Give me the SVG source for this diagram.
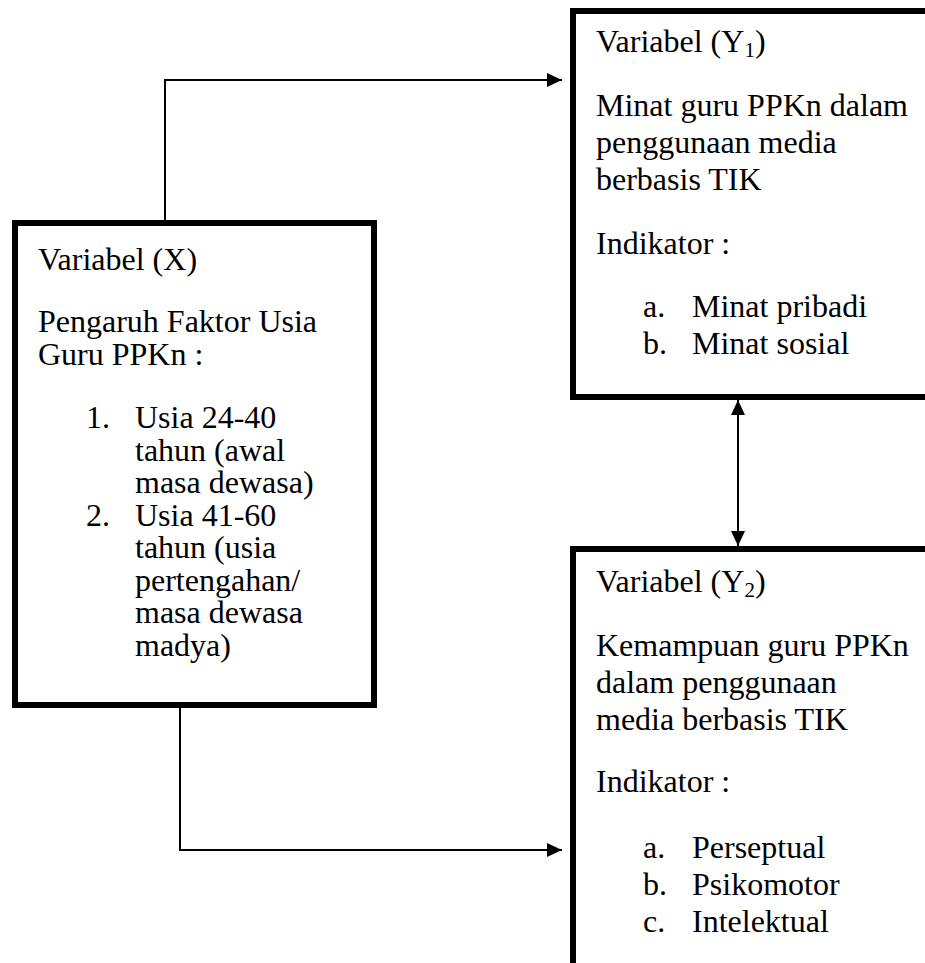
<svg xmlns="http://www.w3.org/2000/svg" width="925" height="963" viewBox="0 0 925 963">
<style>
  .box { fill: #ffffff; stroke: #000000; stroke-width: 6; }
  .conn { fill: none; stroke: #000000; stroke-width: 2; }
  text { font-family: "Liberation Serif", "Times New Roman", serif; font-size: 32px; fill: #000000; }
  .sub { font-size: 21px; }
</style>
<defs>
  <marker id="arrow" markerUnits="userSpaceOnUse" markerWidth="16" markerHeight="14" refX="15" refY="7" orient="auto-start-reverse" viewBox="0 0 16 14">
    <path d="M0,0 L15,7 L0,14 Z" fill="#000000"/>
  </marker>
</defs>
<rect x="0" y="0" width="925" height="963" fill="#ffffff"/>

<g id="connectors">
  <path class="conn" d="M165,220 V80 H562" marker-end="url(#arrow)"/>
  <path class="conn" d="M180,708 V850 H562" marker-end="url(#arrow)"/>
  <path class="conn" d="M738,400 V546" marker-start="url(#arrow)" marker-end="url(#arrow)"/>
</g>

<g id="node-x">
  <rect class="box" x="15" y="223" width="359" height="482"/>
  <text x="38" y="270">Variabel (X)</text>
  <text x="38" y="332">Pengaruh Faktor Usia</text>
  <text x="38" y="365">Guru PPKn :</text>
  <text x="86" y="428">1.</text>
  <text x="135" y="428">Usia 24-40</text>
  <text x="135" y="460.5">tahun (awal</text>
  <text x="135" y="493">masa dewasa)</text>
  <text x="86" y="525.5">2.</text>
  <text x="135" y="525.5">Usia 41-60</text>
  <text x="135" y="558">tahun (usia</text>
  <text x="135" y="590.5">pertengahan/</text>
  <text x="135" y="623">masa dewasa</text>
  <text x="135" y="655.5">madya)</text>
</g>

<g id="node-y1">
  <rect class="box" x="573" y="11" width="400" height="386"/>
  <text x="596" y="52">Variabel (Y<tspan class="sub" dy="5">1</tspan><tspan dy="-5">)</tspan></text>
  <text x="596" y="116">Minat guru PPKn dalam</text>
  <text x="596" y="153">penggunaan media</text>
  <text x="596" y="190">berbasis TIK</text>
  <text x="596" y="254">Indikator :</text>
  <text x="643" y="317">a.</text>
  <text x="692" y="317">Minat pribadi</text>
  <text x="643" y="354">b.</text>
  <text x="692" y="354">Minat sosial</text>
</g>

<g id="node-y2">
  <rect class="box" x="573" y="549" width="400" height="480"/>
  <text x="596" y="592">Variabel (Y<tspan class="sub" dy="5">2</tspan><tspan dy="-5">)</tspan></text>
  <text x="596" y="656">Kemampuan guru PPKn</text>
  <text x="596" y="693">dalam penggunaan</text>
  <text x="596" y="730">media berbasis TIK</text>
  <text x="596" y="792">Indikator :</text>
  <text x="643" y="858">a.</text>
  <text x="692" y="858">Perseptual</text>
  <text x="643" y="895">b.</text>
  <text x="692" y="895">Psikomotor</text>
  <text x="643" y="932">c.</text>
  <text x="692" y="932">Intelektual</text>
</g>
</svg>
